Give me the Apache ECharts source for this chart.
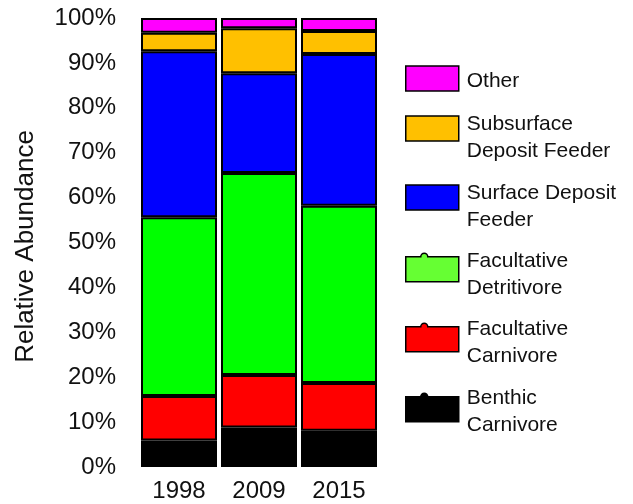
<!DOCTYPE html>
<html>
<head>
<meta charset="utf-8">
<script src="https://cdn.jsdelivr.net/npm/echarts@6/dist/echarts.min.js"></script>
<style>
  html, body { margin: 0; padding: 0; background: #fff; }
  #main { width: 633px; height: 504px; }
</style>
</head>
<body>
<div id="main"></div>
<script>
// sampling years
const years = ['1998', '2009', '2015'];

// feeding groups, bottom of the stack first
const groupNames = [
    'Benthic Carnivore',
    'Facultative Carnivore',
    'Facultative Detritivore',
    'Surface Deposit Feeder',
    'Subsurface Deposit Feeder',
    'Other'
];

// relative abundance (%) per year
const benthicCarnivore = [5.9, 8.8, 8.1];
const facultativeCarnivore = [9.9, 11.7, 10.6];
const facultativeDetritivore = [39.8, 45.0, 39.5];
const surfaceDepositFeeder = [37.0, 22.2, 33.8];
const subsurfaceDepositFeeder = [4.1, 10.0, 5.1];
const other = [3.3, 2.3, 2.9];

const seriesValues = [
    benthicCarnivore,
    facultativeCarnivore,
    facultativeDetritivore,
    surfaceDepositFeeder,
    subsurfaceDepositFeeder,
    other
];

const barColors = ['#000000', '#FF0000', '#00FF00', '#0000FF', '#FFC000', '#FF00FF'];
// the legend swatch for detritivores is a lighter green than the bars
const legendColors = ['#000000', '#FF0000', '#66FF33', '#0000FF', '#FFC000', '#FF00FF'];

// legend text, wrapped like the original
const legendText = {
    'Other': 'Other',
    'Subsurface Deposit Feeder': 'Subsurface\nDeposit Feeder',
    'Surface Deposit Feeder': 'Surface Deposit\nFeeder',
    'Facultative Detritivore': 'Facultative\nDetritivore',
    'Facultative Carnivore': 'Facultative\nCarnivore',
    'Benthic Carnivore': 'Benthic\nCarnivore'
};

const FONT = '"Liberation Sans", Arial, sans-serif';
const TEXT_COLOR = '#111';
const LEGEND_LINE = 27;

// legend layout: top of each swatch box, how far the text sits below the swatch centre
const legendLayout = [
    { name: 'Other', top: 66, shift: 3, bump: false },
    { name: 'Subsurface Deposit Feeder', top: 116, shift: 9, bump: false },
    { name: 'Surface Deposit Feeder', top: 185, shift: 9, bump: false },
    { name: 'Facultative Detritivore', top: 257, shift: 7, bump: true },
    { name: 'Facultative Carnivore', top: 327, shift: 5, bump: true },
    { name: 'Benthic Carnivore', top: 397, shift: 4, bump: true }
];

// rectangle with a small round cap on top (leftover line marker in the source)
const bumpIcon = 'path://M0,4 L15,4 A3.5,3.5 0 0 1 22,4 L53,4 L53,29 L0,29 Z';

const chart = echarts.init(document.getElementById('main'), null, { renderer: 'canvas' });

const legends = legendLayout.map(function (item) {
    const idx = groupNames.indexOf(item.name);
    const iconH = item.bump ? 29 : 25;
    const iconTop = item.bump ? item.top - 4 : item.top;
    const lines = legendText[item.name].split('\n').length;
    // an invisible spacer line pushes the centred text block down
    const blockH = 2 * item.shift + lines * LEGEND_LINE;
    const overflow = Math.max(0, (blockH - iconH) / 2);
    return {
        data: [{
            name: item.name,
            icon: item.bump ? bumpIcon : 'rect',
            itemStyle: {
                color: legendColors[idx],
                borderColor: '#000',
                borderWidth: 1.5
            }
        }],
        left: 405,
        top: iconTop - overflow,
        padding: 0,
        itemWidth: 53,
        itemHeight: iconH,
        selectedMode: false,
        formatter: function (name) {
            return '{gap| }\n' + legendText[name];
        },
        textStyle: {
            fontFamily: FONT,
            fontSize: 21,
            lineHeight: LEGEND_LINE,
            color: TEXT_COLOR,
            padding: [0, 0, 0, 3],
            rich: {
                gap: {
                    fontSize: 1,
                    lineHeight: 2 * item.shift
                }
            }
        }
    };
});

const option = {
    animation: false,
    backgroundColor: '#fff',
    textStyle: { fontFamily: FONT },
    grid: {
        left: 139,
        right: 254,
        top: 18,
        bottom: 37
    },
    legend: legends,
    xAxis: {
        type: 'category',
        data: years,
        axisLine: { show: false },
        axisTick: { show: false },
        axisLabel: {
            fontFamily: FONT,
            fontSize: 24,
            color: TEXT_COLOR,
            margin: 12
        }
    },
    yAxis: {
        type: 'value',
        min: 0,
        max: 100,
        interval: 10,
        name: 'Relative Abundance',
        nameLocation: 'middle',
        nameGap: 100,
        nameTextStyle: {
            fontFamily: FONT,
            fontSize: 26,
            color: TEXT_COLOR,
            padding: [0, 8, 0, 0]
        },
        axisLine: { show: false },
        axisTick: { show: false },
        splitLine: { show: false },
        axisLabel: {
            fontFamily: FONT,
            fontSize: 24,
            color: TEXT_COLOR,
            margin: 23,
            formatter: '{value}%'
        }
    },
    series: groupNames.map(function (name, i) {
        return {
            name: name,
            type: 'bar',
            stack: 'total',
            barCategoryGap: '5%',
            data: seriesValues[i],
            itemStyle: {
                color: barColors[i],
                borderColor: '#000',
                borderWidth: 2
            },
            emphasis: { disabled: true }
        };
    })
};

chart.setOption(option);
</script>
</body>
</html>
